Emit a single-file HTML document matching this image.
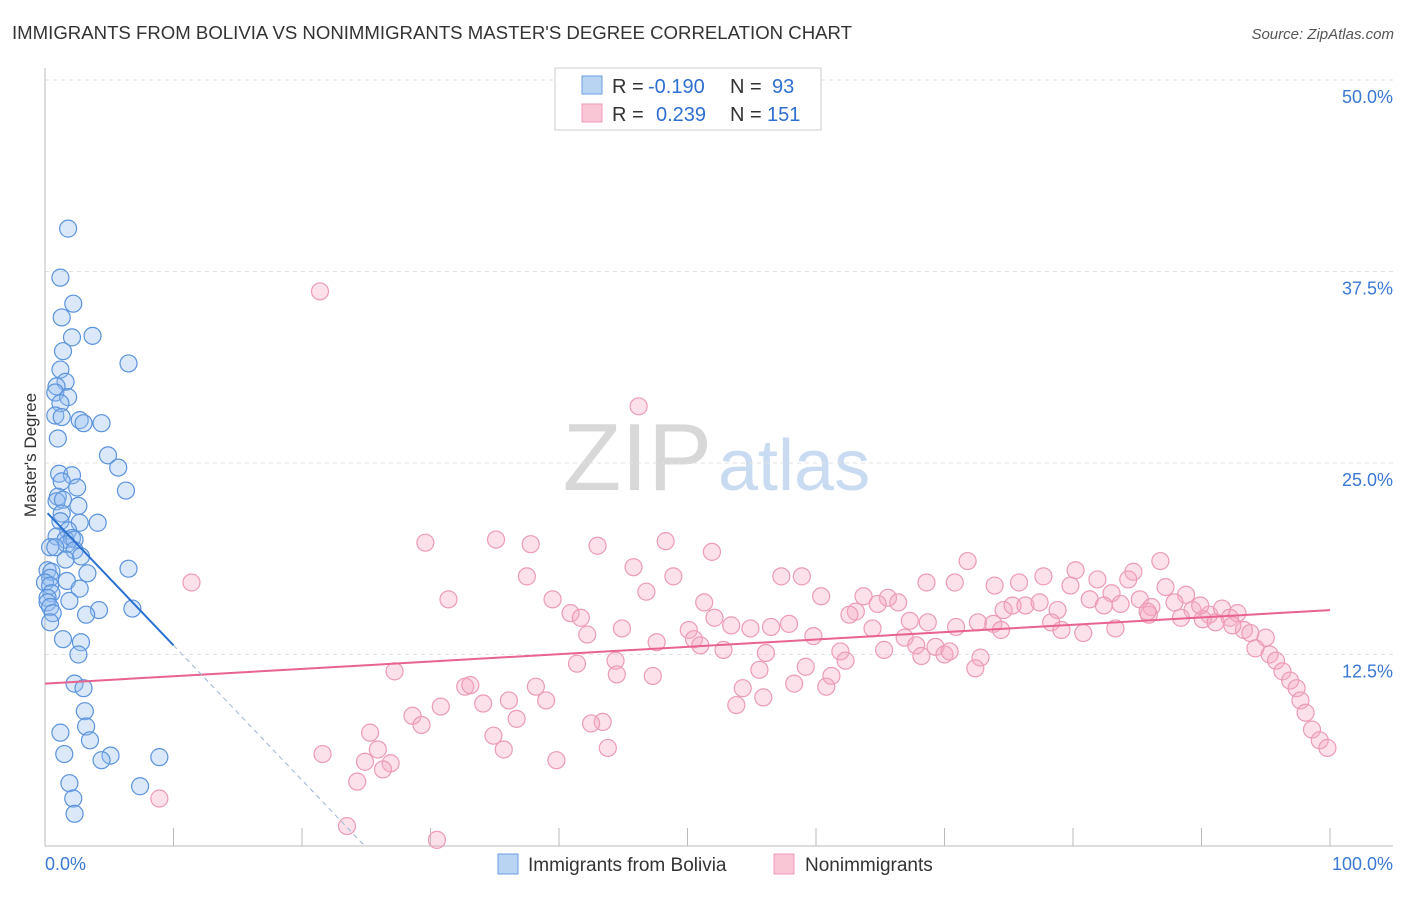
<!DOCTYPE html>
<html><head><meta charset="utf-8"><style>
body{margin:0;background:#fff;font-family:"Liberation Sans",sans-serif;}
svg text{font-family:"Liberation Sans",sans-serif;}
</style></head><body>
<svg id="chart" width="1406" height="892">
<text x="12" y="39" font-size="18" fill="#333" textLength="840" lengthAdjust="spacingAndGlyphs">IMMIGRANTS FROM BOLIVIA VS NONIMMIGRANTS MASTER'S DEGREE CORRELATION CHART</text>
<text x="1394" y="39" font-size="15" fill="#555" font-style="italic" text-anchor="end">Source: ZipAtlas.com</text>
<text x="36" y="455" font-size="17" fill="#333" text-anchor="middle" transform="rotate(-90 36 455)">Master's Degree</text>
<text x="712" y="490" font-size="96" fill="#d8d8d8" text-anchor="end" font-family="Liberation Serif">ZIP</text>
<text x="718" y="490" font-size="72" fill="#c9dbf0">atlas</text>
<g id="grid"></g><g id="marks"></g>
<g>
<rect x="555" y="68" width="266" height="62" fill="#fff" stroke="#ccc"/>
<rect x="582" y="76" width="20" height="18" fill="#b9d3f3" stroke="#6fa0df"/>
<rect x="582" y="104" width="20" height="18" fill="#f9c6d5" stroke="#ee9ab4"/>
<text x="612" y="93" font-size="20" fill="#333">R = </text><text x="648" y="93" font-size="20" fill="#2f6fd0">-0.190</text>
<text x="730" y="93" font-size="20" fill="#333">N = </text><text x="772" y="93" font-size="20" fill="#2f6fd0">93</text>
<text x="612" y="121" font-size="20" fill="#333">R = </text><text x="656" y="121" font-size="20" fill="#2f6fd0">0.239</text>
<text x="730" y="121" font-size="20" fill="#333">N = </text><text x="767" y="121" font-size="20" fill="#2f6fd0">151</text>
</g>
<g>
<rect x="498" y="854" width="20" height="20" fill="#b9d3f3" stroke="#6fa0df"/>
<text x="528" y="871" font-size="19" fill="#333">Immigrants from Bolivia</text>
<rect x="774" y="854" width="20" height="20" fill="#f9c6d5" stroke="#ee9ab4"/>
<text x="805" y="871" font-size="19" fill="#333">Nonimmigrants</text>
</g>
</svg>
<script>
const yTicks=[12.5,25,37.5,50];
const xTickLabels=["0.0%","100.0%"];
const blueX=[1.8,1.2,2.2,1.3,3.7,2.1,1.4,6.5,1.2,1.6,0.9,0.8,1.8,1.2,0.8,1.3,2.7,3.0,4.4,1.0,4.9,5.7,1.1,2.1,1.3,2.5,6.3,1.0,0.9,1.4,2.6,1.3,1.2,2.7,4.1,1.8,0.9,1.6,2.1,2.3,1.7,0.4,0.8,2.3,2.8,1.6,6.5,3.3,0.2,0.5,0.4,1.7,0,0.4,2.7,0.5,0.2,0.2,1.9,0.4,6.8,4.2,3.2,0.6,0.4,1.4,2.8,2.6,2.3,3.0,3.1,3.2,1.2,3.5,1.5,5.1,8.9,4.4,1.9,7.4,2.2,2.3];
const blueY=[40.3,37.1,35.4,34.5,33.3,33.2,32.3,31.5,31.1,30.3,30.0,29.6,29.3,28.9,28.1,28.0,27.8,27.6,27.6,26.6,25.5,24.7,24.3,24.2,23.8,23.4,23.2,22.8,22.5,22.6,22.2,21.7,21.2,21.1,21.1,20.6,20.2,20.0,20.1,20.0,19.7,19.5,19.5,19.3,18.9,18.7,18.1,17.8,18.0,17.9,17.5,17.3,17.2,17.0,16.8,16.5,16.2,15.9,16.0,15.6,15.5,15.4,15.1,15.2,14.6,13.5,13.3,12.5,10.6,10.3,8.8,7.8,7.4,6.9,6.0,5.9,5.8,5.6,4.1,3.9,3.1,2.1];
const pinkX=[21.4,46.2,11.4,29.6,35.1,37.8,43.0,48.3,51.9,71.8,86.8,37.5,31.4,45.8,48.9,57.3,58.9,80.2,77.7,84.7,84.3,68.6,70.8,73.9,75.8,79.8,81.9,83.0,87.2,88.8,46.8,51.3,39.5,40.9,41.7,60.4,63.7,65.6,66.4,64.8,63.1,62.6,74.6,75.3,76.3,77.4,78.8,81.3,82.4,83.7,85.2,87.9,86.1,89.3,90.6,91.6,92.8,90.1,88.4,85.9,91.1,92.2,93.3,93.8,92.4,95.0,94.2,95.3,95.8,96.3,96.9,97.4,97.7,98.1,98.6,99.2,99.8,52.1,53.4,54.9,56.5,57.9,59.8,61.9,64.4,67.3,68.7,70.9,72.6,73.8,74.4,78.3,79.1,80.8,83.3,85.8,89.9,42.2,44.9,47.6,50.1,50.5,51.0,52.8,56.1,65.3,66.9,67.8,69.3,70.0,70.4,72.8,72.4,68.2,62.3,59.2,61.2,60.8,58.3,55.6,54.3,53.8,55.9,44.4,41.4,44.5,47.3,27.2,32.7,33.1,38.2,36.1,39.0,34.1,30.8,28.6,29.3,43.4,36.7,25.3,34.9,25.9,35.7,21.6,26.9,24.9,26.3,39.8,43.8,24.3,8.9,23.5,30.5,42.5];
const pinkY=[36.2,28.7,17.2,19.8,20.0,19.7,19.6,19.9,19.2,18.6,18.6,17.6,16.1,18.2,17.6,17.6,17.6,18.0,17.6,17.9,17.4,17.2,17.2,17.0,17.2,17.0,17.4,16.5,16.9,16.4,16.6,15.9,16.1,15.2,14.9,16.3,16.3,16.2,15.9,15.8,15.3,15.1,15.4,15.7,15.7,15.9,15.4,16.1,15.7,15.8,16.1,15.9,15.6,15.4,15.1,15.5,15.2,14.8,14.9,15.1,14.6,14.9,14.1,13.9,14.4,13.6,12.9,12.5,12.1,11.4,10.8,10.3,9.5,8.7,7.6,6.9,6.4,14.9,14.4,14.2,14.3,14.5,13.7,12.7,14.2,14.7,14.6,14.3,14.6,14.5,14.1,14.6,14.1,13.9,14.2,15.3,15.7,13.8,14.2,13.3,14.1,13.5,13.1,12.8,12.6,12.8,13.6,13.1,13.0,12.5,12.7,12.3,11.6,12.4,12.1,11.7,11.1,10.4,10.6,11.5,10.3,9.2,9.7,12.1,11.9,11.2,11.1,11.4,10.4,10.5,10.4,9.5,9.5,9.3,9.1,8.5,7.9,8.1,8.3,7.4,7.2,6.3,6.3,6.0,5.4,5.5,5.0,5.6,6.4,4.2,3.1,1.3,0.4,8.0];
const blueTrend=[21.9,-0.88];
const pinkTrend=[10.6,0.048];
const NS="http://www.w3.org/2000/svg";
const X=v=>45+v*12.85, Y=v=>846-v*15.32;
const grid=document.getElementById('grid'), marks=document.getElementById('marks');
function mk(tag,attrs,parent){const e=document.createElementNS(NS,tag);for(const k in attrs)e.setAttribute(k,attrs[k]);parent.appendChild(e);return e;}
yTicks.forEach(t=>{
  const l=mk('line',{x1:45,x2:1393,y1:Y(t),y2:Y(t),stroke:'#e2e2e2','stroke-dasharray':'4,4'},grid);
  
  
  const tx=mk('text',{x:1393,y:Y(t)+23,'font-size':18,fill:'#3a78d4','text-anchor':'end'},grid);
  tx.textContent=t.toFixed(1)+'%';
  
  
});
mk('line',{x1:45,x2:45,y1:68,y2:846,stroke:'#bbb'},grid);
mk('line',{x1:45,x2:1393,y1:846,y2:846,stroke:'#bbb'},grid);
for(let i=0;i<=10;i++){mk('line',{x1:X(i*10),x2:X(i*10),y1:828,y2:846,stroke:'#bbb'},grid);}
const xl0=mk('text',{x:45,y:870,'font-size':18,fill:'#3a78d4'},grid);xl0.textContent=xTickLabels[0];


const xl1=mk('text',{x:1393,y:870,'font-size':18,fill:'#3a78d4','text-anchor':'end'},grid);xl1.textContent=xTickLabels[1];


pinkX.forEach((x,i)=>{const c=mk('circle',{cx:X(x),cy:Y(pinkY[i]),r:8.5,fill:'rgba(246,170,194,0.35)',stroke:'#ec9bb5','stroke-width':1.2},marks);

});
blueX.forEach((x,i)=>{const c=mk('circle',{cx:X(x),cy:Y(blueY[i]),r:8.5,fill:'rgba(150,190,240,0.35)',stroke:'#5b93dc','stroke-width':1.2},marks);

});
const pl=mk('line',{x1:X(0),y1:Y(pinkTrend[0]),x2:X(100),y2:Y(pinkTrend[0]+pinkTrend[1]*100),stroke:'#e8638f','stroke-width':2},marks);


const x0=-blueTrend[0]/blueTrend[1];
const bd=mk('line',{x1:X(10),y1:Y(blueTrend[0]+blueTrend[1]*10),x2:X(x0),y2:Y(0),stroke:'#9bb5d6','stroke-width':1,'stroke-dasharray':'5,4'},marks);


const bl=mk('line',{x1:X(0.2),y1:Y(blueTrend[0]+blueTrend[1]*0.2),x2:X(10),y2:Y(blueTrend[0]+blueTrend[1]*10),stroke:'#2a70d0','stroke-width':2},marks);


</script>
</body></html>
